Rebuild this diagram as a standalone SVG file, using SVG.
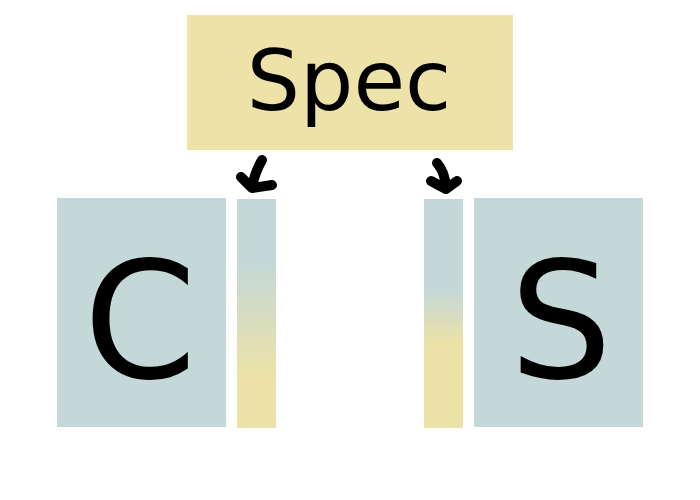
<svg xmlns="http://www.w3.org/2000/svg" width="700" height="500" viewBox="0 0 700 500">
<defs>
<linearGradient id="gl" x1="0" y1="0" x2="0" y2="1">
<stop offset="0" stop-color="#C4D8D7"/>
<stop offset="0.28" stop-color="#C4D8D7"/>
<stop offset="0.78" stop-color="#ECE2A7"/>
<stop offset="1" stop-color="#ECE2A7"/>
</linearGradient>
<linearGradient id="gr" x1="0" y1="0" x2="0" y2="1">
<stop offset="0" stop-color="#C4D8D7"/>
<stop offset="0.4" stop-color="#C4D8D7"/>
<stop offset="0.63" stop-color="#ECE2A7"/>
<stop offset="1" stop-color="#ECE2A7"/>
</linearGradient>
</defs>
<style>
.y{fill:#EDE2A7}
.b{fill:#C4D8D7}
.t{font-family:"DejaVu Sans",sans-serif;fill:#000;text-anchor:middle}
.a{fill:none;stroke:#000;stroke-width:10;stroke-linecap:round;stroke-linejoin:round}
</style>
<rect width="700" height="500" fill="#fff"/>
<g id="spec">
<rect class="y" x="187" y="15" width="326" height="135"/>
<text class="t" x="349" y="110" font-size="84">Spec</text>
</g>
<g id="c">
<rect class="b" x="57" y="198" width="169" height="229"/>
<text class="t" x="140" y="378" font-size="162">C</text>
</g>
<g id="cbar">
<rect x="237" y="199" width="39" height="229" fill="url(#gl)"/>
</g>
<g id="sbar">
<rect x="424" y="199" width="39" height="229" fill="url(#gr)"/>
</g>
<g id="s">
<rect class="b" x="474" y="198" width="169" height="229"/>
<text class="t" x="561" y="378" font-size="162">S</text>
</g>
<g id="connectors">
<path class="a" d="M262,160 Q255,172 252,187 M241,177 L252,188 L272,185"/>
<path class="a" d="M437,163 Q445,172 446,188 M431,181 L446,189 L457,181"/>
</g>
</svg>
